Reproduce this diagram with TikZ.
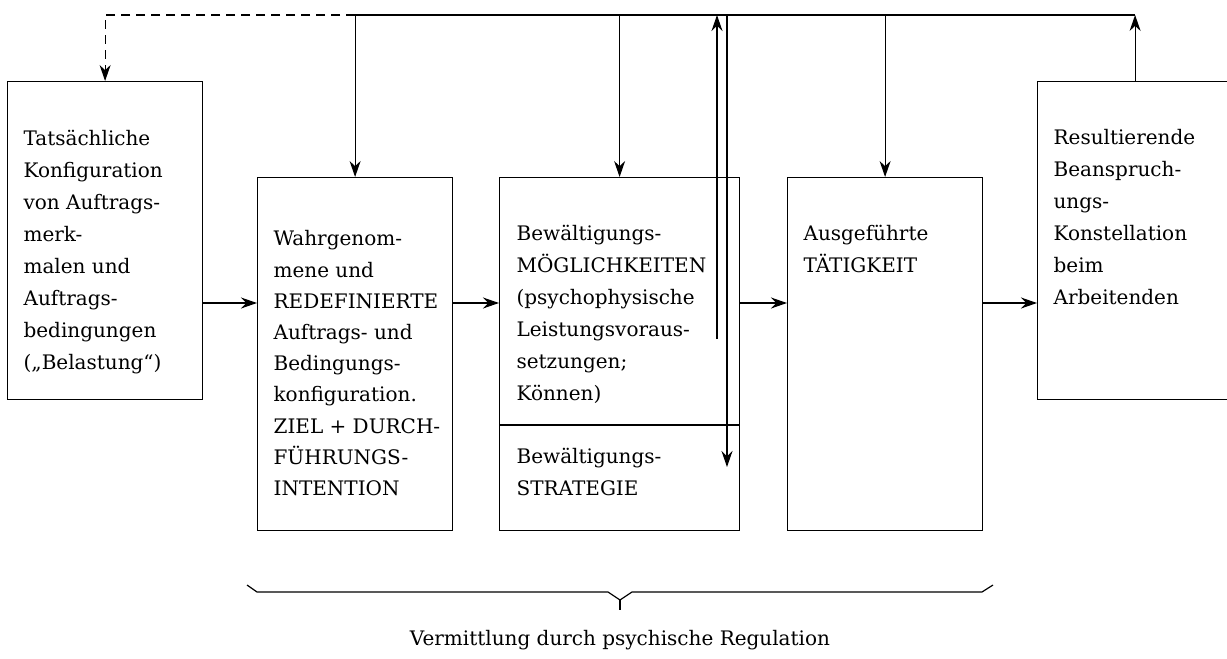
\documentclass[tikz,border=0pt]{standalone}
\usepackage{fontspec}
\setmainfont{DejaVu Serif}
\usetikzlibrary{arrows.meta,positioning}

\begin{document}
\begin{tikzpicture}[x=0.5pt, y=-0.5pt, line width=0.6pt, >={Stealth[length=8pt, width=5.5pt, inset=2.6pt]}, box/.style={rectangle, draw, anchor=north west, inner sep=0pt, minimum width=97.5pt}, txt/.style={anchor=north west, inner sep=0pt, align=left, font=\fontsize{10pt}{16pt}\selectfont}, feedback/.style={dash pattern=on 4.5pt off 3pt}]
  \useasboundingbox (0,0) rectangle (1227,659);
  % levels of the connectors
  \coordinate (top) at (0,15);
  \coordinate (mid) at (0,303);
  \coordinate (split) at (0,425);
  % boxes
  \node[box, minimum height=159pt] (belastung) at (7,81) {};
  \node[box, minimum height=176.5pt] (redef) at (257,177) {};
  \node[box, minimum height=176.5pt, minimum width=120pt] (bewaelt) at (499,177) {};
  \node[box, minimum height=176.5pt] (taetig) at (787,177) {};
  \node[box, minimum height=159pt] (beansp) at (1037,81) {};
  \draw (bewaelt.west |- split) -- (bewaelt.east |- split);
  \coordinate (strat) at (bewaelt.west |- split);
  % texts
  \node[txt] (tbelastung) at ([shift={(16,49)}]belastung.north west) {Tatsächliche\\Konfiguration\\von Auftrags-\\merk-\\malen und\\Auftrags-\\bedingungen\\(„Belastung“)};
  \node[txt, font=\fontsize{10pt}{15.6pt}\selectfont] (tredef) at ([shift={(16,53)}]redef.north west) {Wahrgenom-\\mene und\\REDEFINIERTE\\Auftrags- und\\Bedingungs-\\konfiguration.\\ZIEL + DURCH-\\FÜHRUNGS-\\INTENTION};
  \node[txt] (tbewaelt) at ([shift={(17,48)}]bewaelt.north west) {Bewältigungs-\\MÖGLICHKEITEN\\(psychophysische\\Leistungsvoraus-\\setzungen;\\Können)};
  \node[txt] (tstrat) at ([shift={(17,23)}]strat) {Bewältigungs-\\STRATEGIE};
  \node[txt] (ttaetig) at ([shift={(16,48)}]taetig.north west) {Ausgeführte\\TÄTIGKEIT};
  \node[txt] (tbeansp) at ([shift={(16,48)}]beansp.north west) {Resultierende\\Beanspruch-\\ungs-\\Konstellation\\beim\\Arbeitenden};
  % main flow
  \draw[->] (belastung.east |- mid) -- (redef.west |- mid);
  \draw[->] (redef.east |- mid) -- (bewaelt.west |- mid);
  \draw[->] (bewaelt.east |- mid) -- (taetig.west |- mid);
  \draw[->] (taetig.east |- mid) -- (beansp.west |- mid);
  % feedback along the top
  \draw[->] (beansp.north) -- (beansp.north |- top);
  \draw (redef.north |- top) -- (beansp.north |- top);
  \draw[->, feedback] (redef.north |- top) -- (belastung.north |- top) -- (belastung.north);
  \draw[->] (redef.north |- top) -- (redef.north);
  \draw[->] (bewaelt.north |- top) -- (bewaelt.north);
  \draw[->] (taetig.north |- top) -- (taetig.north);
  \coordinate (up) at (717,339);
  \coordinate (down) at (727,467);
  \draw[->] (up) -- (up |- top);
  \draw[->] (down |- top) -- (down);
  % brace
  \draw (247,585) -- (257,592) -- (608,592) -- (620,600) -- (632,592) -- (982,592) -- (993,585);
  \draw (620,600) -- (620,610);
  \node[txt, anchor=center] (regulation) at (620,640) {Vermittlung durch psychische Regulation};
\end{tikzpicture}
\end{document}
